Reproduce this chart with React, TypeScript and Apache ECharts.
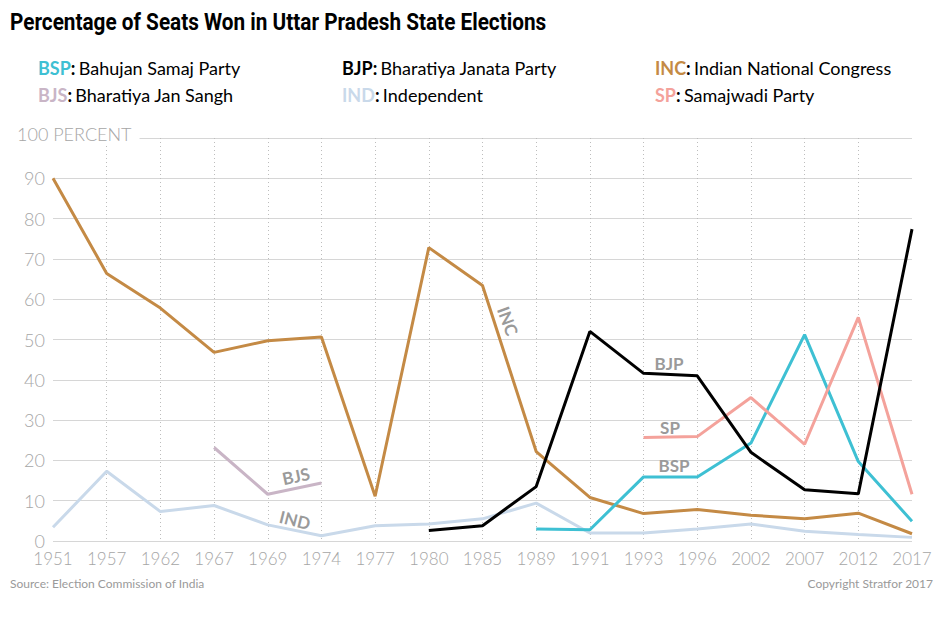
import React, { useEffect, useRef } from "react";
import * as echarts from "echarts";

const years = ["1951", "1957", "1962", "1967", "1969", "1974", "1977", "1980", "1985", "1989", "1991", "1993", "1996", "2002", "2007", "2012", "2017"];
const inc = [90, 66.4, 57.8, 46.8, 49.7, 50.6, 11.1, 72.8, 63.4, 22.2, 10.8, 6.8, 7.8, 6.4, 5.5, 6.9, 1.8];
const bjp = [null, null, null, null, null, null, null, 2.6, 3.8, 13.5, 52.0, 41.6, 41.0, 22.0, 12.7, 11.7, 77.4];
const bsp = [null, null, null, null, null, null, null, null, null, 3.0, 2.8, 15.9, 15.9, 24.3, 51.2, 19.7, 4.9];
const sp = [null, null, null, null, null, null, null, null, null, null, null, 25.7, 25.9, 35.6, 24.0, 55.5, 11.6];
const bjs = [null, null, null, 23.2, 11.6, 14.4, null, null, null, null, null, null, null, null, null, null, null];
const ind = [3.4, 17.3, 7.3, 8.8, 4.0, 1.3, 3.8, 4.2, 5.5, 9.4, 2.0, 2.0, 3.0, 4.2, 2.4, 1.6, 0.9];

const C = {
  BSP: "#3ec0d3",
  BJP: "#000000",
  INC: "#c48a45",
  BJS: "#c9b5c6",
  IND: "#c9d9ea",
  SP: "#f4a29b",
};

const legendItems = [
  { abbr: "BSP", name: "Bahujan Samaj Party", color: C.BSP, x: 38, y: 68 },
  { abbr: "BJP", name: "Bharatiya Janata Party", color: C.BJP, x: 342, y: 68 },
  { abbr: "INC", name: "Indian National Congress", color: C.INC, x: 655, y: 68 },
  { abbr: "BJS", name: "Bharatiya Jan Sangh", color: C.BJS, x: 38, y: 95 },
  { abbr: "IND", name: "Independent", color: C.IND, x: 342, y: 95 },
  { abbr: "SP", name: "Samajwadi Party", color: C.SP, x: 655, y: 95 },
];

const inlineLabels = [
  { text: "INC", x: 508, y: 321, rot: -70 },
  { text: "BJP", x: 669, y: 363, rot: 0 },
  { text: "SP", x: 670, y: 427, rot: 0 },
  { text: "BSP", x: 674, y: 465, rot: 0 },
  { text: "BJS", x: 296, y: 476, rot: 12 },
  { text: "IND", x: 295, y: 520, rot: -14 },
];

const FONT = "Lato, 'Noto Sans', sans-serif";

export default function App() {
  const ref = useRef<HTMLDivElement>(null);
  useEffect(() => {
    if (!ref.current) return;
    const chart = echarts.init(ref.current, null, { renderer: "svg" });
    const mk = (name: string, data: any[], color: string) => ({
      name,
      type: "line",
      data,
      symbol: "none",
      connectNulls: false,
      lineStyle: { color, width: 3 },
      itemStyle: { color },
    });
    const graphics: any[] = [
      {
        type: "text",
        x: 10,
        y: 21,
        scaleX: 0.865,
        style: {
          text: "Percentage of Seats Won in Uttar Pradesh State Elections",
          font: "bold 24px Roboto, 'Noto Sans', sans-serif",
          fill: "#000",
          textVerticalAlign: "middle",
        },
      },
      {
        type: "text",
        x: 17,
        y: 134,
        z: 50,
        style: {
          text: "100 PERCENT",
          font: `300 18px ${FONT}`,
          fill: "#a6a6a6",
          textVerticalAlign: "middle",
          backgroundColor: "#fff",
          padding: [2, 8, 2, 0],
        },
      },
      {
        type: "text",
        x: 10,
        y: 583,
        style: {
          text: "Source: Election Commission of India",
          font: `12px ${FONT}`,
          fill: "#9a9a9a",
          textVerticalAlign: "middle",
        },
      },
      {
        type: "text",
        x: 933,
        y: 583,
        style: {
          text: "Copyright Stratfor 2017",
          font: `12px ${FONT}`,
          fill: "#9a9a9a",
          textAlign: "right",
          textVerticalAlign: "middle",
        },
      },
    ];
    legendItems.forEach((it) => {
      graphics.push({
        type: "text",
        x: it.x,
        y: it.y,
        style: {
          text: `{a|${it.abbr}}{c|:} {n|${it.name}}`,
          textVerticalAlign: "middle",
          rich: {
            a: { fontFamily: FONT, fontWeight: "bold", fontSize: 18, fill: it.color },
            c: { fontFamily: FONT, fontWeight: "bold", fontSize: 18, fill: "#000" },
            n: { fontFamily: FONT, fontSize: 18, fill: "#000" },
          },
        },
      });
    });
    inlineLabels.forEach((l) => {
      graphics.push({
        type: "text",
        x: l.x,
        y: l.y,
        rotation: (l.rot * Math.PI) / 180,
        style: {
          text: l.text,
          font: `bold 17px ${FONT}`,
          fill: "#9a9a9a",
          textAlign: "center",
          textVerticalAlign: "middle",
        },
        z: 100,
      });
    });
    chart.setOption({
      animation: false,
      backgroundColor: "#fff",
      grid: { left: 53, right: 28, top: 138, bottom: 77 },
      xAxis: {
        type: "category",
        data: years,
        boundaryGap: false,
        axisLine: { show: false },
        axisTick: { show: false },
        axisLabel: {
          interval: 0,
          color: "#a6a6a6",
          fontFamily: FONT,
          fontWeight: 300,
          fontSize: 17,
          lineHeight: 15,
          margin: 10,
        },
        splitLine: {
          show: true,
          interval: (i: number) => i !== 0 && i !== years.length - 1,
          lineStyle: { color: "#bdbdbd", type: [1, 3], width: 1 },
        },
      },
      yAxis: {
        type: "value",
        min: 0,
        max: 100,
        interval: 10,
        axisLine: { show: false },
        axisTick: { show: false },
        axisLabel: {
          color: "#a6a6a6",
          fontFamily: FONT,
          fontWeight: 300,
          fontSize: 18,
          lineHeight: 15,
          padding: [0, 0, 6, 0],
          margin: 8,
          formatter: (v: number) => (v === 100 ? "" : String(v)),
        },
        splitLine: { lineStyle: { color: "#d6d6d6", width: 1 } },
      },
      series: [
        mk("IND", ind, C.IND),
        mk("BJS", bjs, C.BJS),
        mk("INC", inc, C.INC),
        mk("BSP", bsp, C.BSP),
        mk("SP", sp, C.SP),
        mk("BJP", bjp, C.BJP),
      ],
      graphic: graphics,
    });
    return () => chart.dispose();
  }, []);
  return <div ref={ref} style={{ width: 940, height: 618, position: "absolute", left: 0, top: 0 }} />;
}
